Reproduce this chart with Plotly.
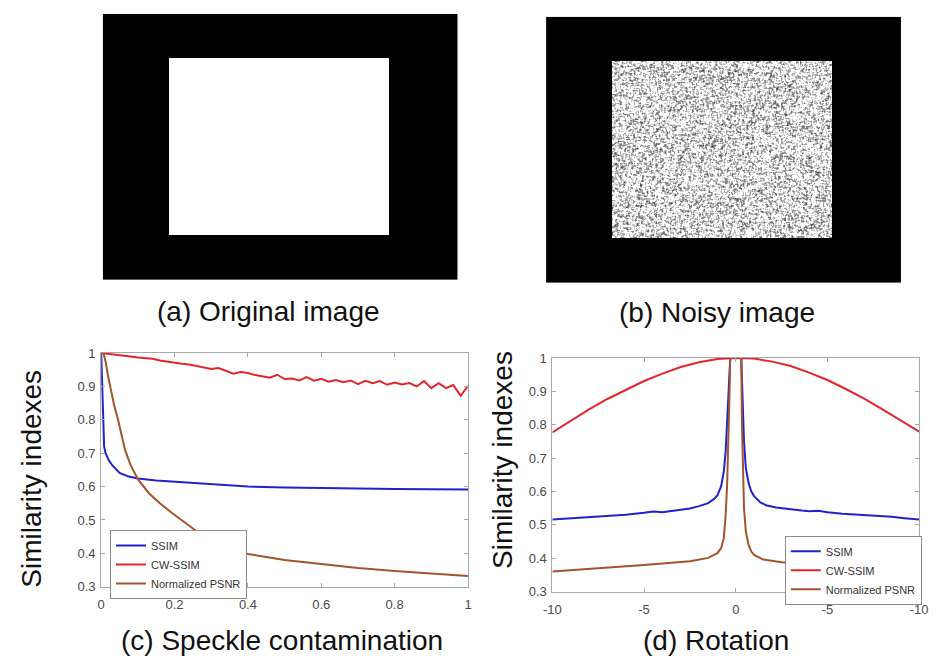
import numpy as np
import plotly.graph_objects as go

# ---------------- test images ----------------
IMG_H, IMG_W = 272, 363          # full test frame (rows, cols)
INNER_ROWS = (45, 226)           # bright rectangle rows
INNER_COLS = (68, 293)           # bright rectangle cols

original = np.zeros((IMG_H, IMG_W, 3), dtype=np.uint8)
original[INNER_ROWS[0]:INNER_ROWS[1], INNER_COLS[0]:INNER_COLS[1], :] = 255

# multiplicative speckle applied to the bright rectangle
rng = np.random.default_rng(3)
h = INNER_ROWS[1] - INNER_ROWS[0]
w = INNER_COLS[1] - INNER_COLS[0]
speckle = rng.gamma(2.5, 0.4, size=(h, w))
# light smoothing of the grain
pad = np.pad(speckle, 1, mode="edge")
speckle = (3 * speckle + pad[:-2, 1:-1] + pad[2:, 1:-1] + pad[1:-1, :-2] + pad[1:-1, 2:]) / 7
inten = np.clip(speckle * 232, 0, 255).astype(np.uint8)
noisy = np.zeros_like(original)
for c in range(3):
    noisy[INNER_ROWS[0]:INNER_ROWS[1], INNER_COLS[0]:INNER_COLS[1], c] = inten

# ---------------- (c) speckle contamination ----------------
c_ssim_x = [0.0, 0.002, 0.005, 0.008, 0.012, 0.02, 0.03, 0.05, 0.075, 0.1, 0.15, 0.19,
            0.3, 0.4, 0.5, 0.6, 0.7, 0.8, 0.9, 1.0]
c_ssim_y = [1.0, 0.93, 0.80, 0.72, 0.70, 0.680, 0.664, 0.641, 0.630, 0.624, 0.618, 0.615,
            0.606, 0.600, 0.597, 0.595, 0.594, 0.593, 0.592, 0.591]

c_cw_x = [0.00, 0.02, 0.04, 0.06, 0.08, 0.10, 0.12, 0.14, 0.16, 0.18, 0.20, 0.22, 0.24,
          0.26, 0.28, 0.30, 0.32, 0.34, 0.36, 0.38, 0.40, 0.42, 0.44, 0.46, 0.48, 0.50,
          0.52, 0.54, 0.56, 0.58, 0.60, 0.62, 0.64, 0.66, 0.68, 0.70, 0.72, 0.74, 0.76,
          0.78, 0.80, 0.82, 0.84, 0.86, 0.88, 0.90, 0.92, 0.94, 0.96, 0.98, 1.00]
c_cw_y = [1.000, 0.998, 0.996, 0.993, 0.990, 0.987, 0.985, 0.983, 0.978, 0.974, 0.972,
          0.968, 0.966, 0.962, 0.958, 0.952, 0.955, 0.946, 0.938, 0.943, 0.940, 0.934,
          0.930, 0.926, 0.935, 0.922, 0.924, 0.918, 0.928, 0.917, 0.923, 0.914, 0.919,
          0.913, 0.918, 0.907, 0.917, 0.910, 0.916, 0.905, 0.912, 0.906, 0.910, 0.900,
          0.916, 0.895, 0.910, 0.895, 0.904, 0.872, 0.902]

c_psnr_x = [0.006, 0.012, 0.018, 0.024, 0.035, 0.046, 0.055, 0.065, 0.08, 0.1, 0.13, 0.16,
            0.194, 0.23, 0.274, 0.33, 0.4, 0.5, 0.6, 0.7, 0.8, 0.9, 1.0]
c_psnr_y = [1.0, 0.975, 0.935, 0.9, 0.845, 0.8, 0.755, 0.71, 0.665, 0.622, 0.58, 0.55,
            0.52, 0.49, 0.455, 0.425, 0.398, 0.38, 0.367, 0.356, 0.347, 0.339, 0.332]

# ---------------- (d) rotation ----------------
d_x_ticks = [-10, -5, 0, 5, 10]
d_x_ticktext = ["-10", "-5", "0", "-5", "-10"]

d_ssim_x = [-10, -9, -8, -7, -6, -5, -4.5, -4, -3.5, -3, -2.5, -2, -1.5, -1.2, -1, -0.8,
            -0.65, -0.55, -0.45, -0.35, -0.3, 0.3, 0.38, 0.45, 0.55, 0.7, 0.85, 1.0,
            1.34, 1.7, 2.2, 2.6, 3.1, 3.6, 4.0, 4.5, 5.0, 5.8, 6.5, 7.6, 8.5, 9.2, 10]
d_ssim_y = [0.516, 0.519, 0.522, 0.526, 0.530, 0.536, 0.540, 0.538, 0.542, 0.546, 0.549,
            0.556, 0.565, 0.577, 0.588, 0.615, 0.66, 0.72, 0.82, 0.95, 1.0,
            1.0, 0.88, 0.75, 0.67, 0.625, 0.600, 0.586, 0.567, 0.558, 0.552, 0.549, 0.547,
            0.543, 0.541, 0.542, 0.538, 0.533, 0.531, 0.528, 0.524, 0.520, 0.516]

d_cw_x = [-10, -9, -8, -7, -6, -5, -4, -3, -2, -1, 0, 1, 2, 3, 4, 5, 6, 7, 8, 9, 10]
d_cw_y = [0.777, 0.811, 0.846, 0.877, 0.904, 0.931, 0.953, 0.973, 0.987, 0.997, 1.0,
          0.998, 0.989, 0.976, 0.956, 0.934, 0.907, 0.878, 0.846, 0.813, 0.779]

d_psnr_x = [-10, -7.5, -5, -2.5, -1.5, -1, -0.8, -0.65, -0.55, -0.47, -0.4, -0.35, -0.3,
            0.3, 0.34, 0.38, 0.45, 0.55, 0.7, 0.85, 1.0, 1.5, 2.5, 5, 7.5, 10]
d_psnr_y = [0.360, 0.369, 0.380, 0.391, 0.401, 0.415, 0.43, 0.46, 0.53, 0.62, 0.74, 0.87,
            1.0, 1.0, 0.80, 0.66, 0.55, 0.48, 0.44, 0.42, 0.41, 0.396, 0.388, 0.378, 0.368,
            0.360]

Y_TICKS = [0.3, 0.4, 0.5, 0.6, 0.7, 0.8, 0.9, 1]
Y_TICKTEXT = ["0.3", "0.4", "0.5", "0.6", "0.7", "0.8", "0.9", "1"]
C_X_TICKS = [0, 0.2, 0.4, 0.6, 0.8, 1]
C_X_TICKTEXT = ["0", "0.2", "0.4", "0.6", "0.8", "1"]

SERIES = ["SSIM", "CW-SSIM", "Normalized PSNR"]
COLORS = ["#2222cc", "#e3262b", "#a5532b"]

W, H = 936, 669
FONT = "Liberation Sans, Arial, sans-serif"

fig = go.Figure()

# images
fig.add_trace(go.Image(z=original, xaxis="x", yaxis="y", hoverinfo="skip"))
fig.add_trace(go.Image(z=noisy, xaxis="x2", yaxis="y2", hoverinfo="skip"))

# similarity curves
for name, col, xs, ys in zip(SERIES, COLORS,
                              [c_ssim_x, c_cw_x, c_psnr_x], [c_ssim_y, c_cw_y, c_psnr_y]):
    fig.add_trace(go.Scatter(x=xs, y=ys, mode="lines", name=name, xaxis="x3", yaxis="y3",
                             line=dict(color=col, width=2), legend="legend"))
for name, col, xs, ys in zip(SERIES, COLORS,
                              [d_ssim_x, d_cw_x, d_psnr_x], [d_ssim_y, d_cw_y, d_psnr_y]):
    fig.add_trace(go.Scatter(x=xs, y=ys, mode="lines", name=name, xaxis="x4", yaxis="y4",
                             line=dict(color=col, width=2), legend="legend2"))


def px_x(a, b):
    return [a / W, b / W]


def px_y(top, bottom):
    return [1 - bottom / H, 1 - top / H]


img_axis = dict(visible=False, showgrid=False, zeroline=False)
plot_axis = dict(showline=True, linecolor="#a8a8a8", linewidth=1, mirror="ticks",
                 ticks="inside", ticklen=4, tickcolor="#a8a8a8", showgrid=False,
                 zeroline=False, tickfont=dict(family=FONT, size=13, color="#4a4a4a"))
x_axis = dict(plot_axis, ticklabelstandoff=6)
y_axis = dict(plot_axis, ticklabelstandoff=2)

legend_style = dict(xanchor="left", yanchor="top", bgcolor="white", bordercolor="#8c8c8c",
                    borderwidth=1, font=dict(family=FONT, size=11, color="#333333"),
                    itemwidth=30, tracegroupgap=0)

fig.update_layout(
    width=W, height=H, margin=dict(l=0, r=0, t=0, b=0),
    paper_bgcolor="white", plot_bgcolor="white", showlegend=True,
    xaxis=dict(img_axis, domain=px_x(95, 458), range=[-0.5, IMG_W - 0.5], anchor="y"),
    yaxis=dict(img_axis, domain=px_y(7, 279), range=[IMG_H - 0.5, -0.5], anchor="x"),
    xaxis2=dict(img_axis, domain=px_x(547, 910), range=[-0.5, IMG_W - 0.5], anchor="y2"),
    yaxis2=dict(img_axis, domain=px_y(10, 282), range=[IMG_H - 0.5, -0.5], anchor="x2"),
    xaxis3=dict(x_axis, domain=px_x(94, 468), range=[0, 1], anchor="y3",
                tickvals=C_X_TICKS, ticktext=C_X_TICKTEXT),
    yaxis3=dict(y_axis, domain=px_y(354, 593), range=[0.3, 1], anchor="x3",
                tickvals=Y_TICKS, ticktext=Y_TICKTEXT),
    xaxis4=dict(x_axis, domain=px_x(554, 928), range=[-10, 10], anchor="y4",
                tickvals=d_x_ticks, ticktext=d_x_ticktext),
    yaxis4=dict(y_axis, domain=px_y(359, 598), range=[0.3, 1], anchor="x4",
                tickvals=Y_TICKS, ticktext=Y_TICKTEXT),
    legend=dict(legend_style, x=103 / W, y=1 - 535 / H),
    legend2=dict(legend_style, x=791 / W, y=1 - 541 / H),
)

label_font = dict(family=FONT, size=28, color="#111111")
captions = [
    ("(a) Original image", 265, 311, 0),
    ("(b) Noisy image", 722, 312, 0),
    ("(c) Speckle contamination", 278, 648, 0),
    ("(d) Rotation", 721, 648, 0),
    ("Similarity indexes", 23, 483, -90),
    ("Similarity indexes", 503, 463, -90),
]
for text, cx, cy, ang in captions:
    fig.add_annotation(text=text, x=cx / W, y=1 - cy / H, xref="paper", yref="paper",
                       xanchor="center", yanchor="middle", showarrow=False,
                       textangle=ang, font=label_font)

fig.write_html("out.html")
